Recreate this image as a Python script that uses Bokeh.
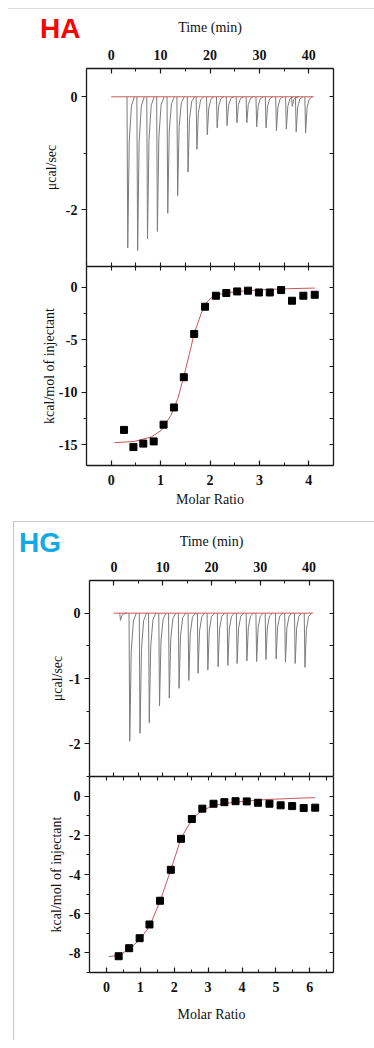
from bokeh.plotting import figure
from bokeh.models import LinearAxis, FixedTicker, Div, Spacer
from bokeh.layouts import column, row
from bokeh.embed import file_html
from bokeh.resources import INLINE

# ---------------- data: HA ----------------
ha_inj_time = [3.2, 5.2, 7.2, 9.2, 11.3, 13.3, 15.4, 17.2, 19.3, 21.3,
               23.3, 25.3, 27.3, 29.3, 31.2, 33.3, 35.3, 36.5, 37.3, 39.2]
ha_inj_peak = [-2.67, -2.72, -2.51, -2.38, -2.06, -1.75, -1.33, -0.93, -0.67, -0.55,
               -0.51, -0.46, -0.46, -0.53, -0.55, -0.60, -0.57, -0.17, -0.62, -0.64]
ha_base_time = [0.0, 41.0]
ha_base_val = [0.0, 0.0]

ha_ratio = [0.26, 0.45, 0.65, 0.86, 1.06, 1.27, 1.47, 1.68, 1.90, 2.12,
            2.33, 2.55, 2.77, 2.99, 3.21, 3.44, 3.66, 3.89, 4.12]
ha_heat = [-13.6, -15.24, -14.91, -14.70, -13.1, -11.46, -8.57, -4.44, -1.84, -0.79,
           -0.53, -0.38, -0.31, -0.48, -0.48, -0.25, -1.27, -0.79, -0.70]
ha_fit_ratio = [0.07, 0.47, 0.81, 1.01, 1.21, 1.35, 1.47, 1.58, 1.68, 1.82,
                1.90, 2.02, 2.22, 2.49, 3.03, 3.57, 4.12]
ha_fit_heat = [-14.82, -14.70, -14.28, -13.65, -12.2, -10.6, -8.5, -6.4, -4.4, -2.5,
               -1.6, -1.0, -0.63, -0.41, -0.22, -0.12, -0.06]

# ---------------- data: HG ----------------
hg_inj_time = [1.2, 3.1, 5.2, 7.1, 9.2, 11.2, 13.2, 15.2, 17.1, 19.1, 21.2,
               23.2, 25.1, 27.1, 29.1, 31.0, 33.1, 35.0, 37.0, 39.0]
hg_inj_peak = [-0.11, -1.96, -1.84, -1.68, -1.42, -1.30, -1.15, -1.03, -0.92, -0.87, -0.82,
               -0.80, -0.77, -0.73, -0.74, -0.71, -0.70, -0.75, -0.77, -0.83]
hg_base_time = [0.0, 40.8]
hg_base_val = [0.0, 0.0]

hg_ratio = [0.36, 0.67, 0.98, 1.27, 1.58, 1.90, 2.20, 2.52, 2.83, 3.16,
            3.48, 3.81, 4.14, 4.47, 4.81, 5.14, 5.48, 5.82, 6.16]
hg_heat = [-8.17, -7.76, -7.25, -6.55, -5.34, -3.76, -2.18, -1.17, -0.64, -0.39,
           -0.31, -0.26, -0.27, -0.34, -0.39, -0.47, -0.51, -0.61, -0.59]
hg_fit_ratio = [0.07, 0.36, 0.67, 0.98, 1.27, 1.58, 1.90, 2.20, 2.39, 2.58,
                2.83, 3.18, 3.77, 4.76, 5.74, 6.16]
hg_fit_heat = [-8.19, -8.12, -7.81, -7.33, -6.65, -5.37, -3.76, -2.16, -1.58, -1.07,
               -0.73, -0.47, -0.31, -0.17, -0.10, -0.08]

# tick labels
time_ticks = [0, 10, 20, 30, 40]
ha_raw_ticks = [0, -2]
ha_heat_ticks = [0, -5, -10, -15]
ha_ratio_ticks = [0, 1, 2, 3, 4]
hg_raw_ticks = [0, -1, -2]
hg_heat_ticks = [0, -2, -4, -6, -8]
hg_ratio_ticks = [0, 1, 2, 3, 4, 5, 6]

# ---------------- style ----------------
SERIF = "Liberation Serif"
AX_COLOR = "#1a1a1a"
FIT_RED = "#c8585a"
TRACE = "#7c7c7c"
SPIKE_DT = [0.0, 0.15, 0.45, 0.9, 1.5]
SPIKE_FRAC = [0.0, 1.0, 0.3, 0.06, 0.0]


def rng(a, b, step):
    out, v = [], a
    while v <= b + 1e-9:
        out.append(round(v, 6))
        v += step
    return out


def make_axis(major, minor, tick_in, tick_out, title=None,
              label_standoff=4, title_standoff=6):
    ax = LinearAxis(ticker=FixedTicker(ticks=major, minor_ticks=minor))
    ax.axis_line_color = AX_COLOR
    ax.axis_line_width = 1.3
    ax.major_tick_line_color = AX_COLOR
    ax.minor_tick_line_color = AX_COLOR
    ax.major_tick_line_width = 1.2
    ax.minor_tick_line_width = 1.0
    ax.major_tick_in = 5 if tick_in else 0
    ax.major_tick_out = 5 if tick_out else 0
    ax.minor_tick_in = 3 if tick_in else 0
    ax.minor_tick_out = 3 if tick_out else 0
    ax.major_label_overrides = {t: str(t) for t in major}
    ax.major_label_text_font = SERIF
    ax.major_label_text_font_style = "bold"
    ax.major_label_text_font_size = "14px"
    ax.major_label_text_color = "#111111"
    ax.major_label_standoff = label_standoff
    if title:
        ax.axis_label = title
        ax.axis_label_text_font = SERIF
        ax.axis_label_text_font_style = "normal"
        ax.axis_label_text_font_size = "14px"
        ax.axis_label_text_color = "#111111"
        ax.axis_label_standoff = title_standoff
    return ax


def bare_axis(positions):
    # frame side with inward ticks only (no tick labels)
    ax = LinearAxis(ticker=FixedTicker(ticks=[], minor_ticks=positions))
    ax.axis_line_color = AX_COLOR
    ax.axis_line_width = 1.3
    ax.minor_tick_line_color = AX_COLOR
    ax.minor_tick_line_width = 1.1
    ax.minor_tick_in = 4
    ax.minor_tick_out = 0
    ax.major_label_standoff = 0
    return ax


def base_fig(w, h, xr, yr, left, right, top, bottom):
    p = figure(width=w, height=h, x_range=xr, y_range=yr,
               x_axis_location=None, y_axis_location=None,
               output_backend="svg", toolbar_location=None,
               min_border_left=left, min_border_right=right,
               min_border_top=top, min_border_bottom=bottom)
    p.grid.visible = False
    p.outline_line_color = None
    p.background_fill_color = "white"
    p.border_fill_color = "white"
    return p


def raw_fig(w, h, left, top, yr, y_major, y_minor, times, peaks, bt, bv,
            ystand, tstand):
    p = base_fig(w, h, (-5, 45), yr, left, 33, top, 0)
    tminor = rng(-5, 45, 5)
    p.add_layout(make_axis(time_ticks, tminor, True, False, "Time (min)", 9, tstand), "above")
    p.add_layout(bare_axis(tminor), "below")
    p.add_layout(make_axis(y_major, y_minor, False, True, "\u03bccal/sec", 4, ystand), "left")
    p.add_layout(bare_axis(sorted(y_major + y_minor)), "right")
    xs = [[t + d for d in SPIKE_DT] for t in times]
    ys = [[pk * f for f in SPIKE_FRAC] for pk in peaks]
    p.multi_line(xs, ys, line_color=TRACE, line_width=1)
    p.line(bt, bv, line_color=FIT_RED, line_width=1)
    return p


def heat_fig(w, h, left, bottom, xr, yr, x_major, x_minor, y_major, y_minor,
             ratio, heat, fr, fh, ystand, xstand):
    p = base_fig(w, h, xr, yr, left, 33, 0, bottom)
    p.add_layout(bare_axis(sorted(x_major + x_minor)), "above")
    p.add_layout(make_axis(x_major, x_minor, True, False, "Molar Ratio", 9, xstand), "below")
    p.add_layout(make_axis(y_major, y_minor, False, True, "kcal/mol of injectant", 4, ystand), "left")
    p.add_layout(bare_axis(sorted(y_major + y_minor)), "right")
    p.line(fr, fh, line_color=FIT_RED, line_width=1)
    p.scatter(ratio, heat, marker="square", size=7, fill_color="black", line_color="black")
    return p


def half_steps(a, b, majors):
    return [v for v in rng(a, b, 0.5) if v not in majors]


def tag_div(text, color, top, left):
    html = ('<span style="font-family:\'Liberation Sans\',Arial,sans-serif;'
            'font-weight:bold;font-size:28px;line-height:28px;color:%s;'
            'white-space:nowrap">%s</span>' % (color, text))
    return Div(text=html, width=60, height=28, margin=(top, 0, -(top + 28), left),
               styles={"position": "relative", "z-index": "5", "overflow": "visible"})


# ---------------- HA panel ----------------
fa1 = raw_fig(358, 257, 78, 59, (-3, 0.5), ha_raw_ticks, [-3, -1],
              ha_inj_time, ha_inj_peak, ha_base_time, ha_base_val, 4, 12)
fa2 = heat_fig(358, 255, 78, 56, (-0.5, 4.5), (-17, 2), ha_ratio_ticks,
               half_steps(-0.5, 4.5, ha_ratio_ticks),
               ha_heat_ticks, [-17.5, -12.5, -7.5, -2.5], ha_ratio, ha_heat,
               ha_fit_ratio, ha_fit_heat, -1, 4)

# ---------------- HG panel ----------------
fb1 = raw_fig(352, 254, 75, 58, (-2.5, 0.5), hg_raw_ticks, [-2.5, -1.5, -0.5],
              hg_inj_time, hg_inj_peak, hg_base_time, hg_base_val, 1, 10)
fb2 = heat_fig(352, 264, 75, 68, (-0.5, 6.7), (-9, 1), hg_ratio_ticks,
               half_steps(-0.5, 6.5, hg_ratio_ticks),
               hg_heat_ticks, [-9, -7, -5, -3, -1, 1], hg_ratio, hg_heat,
               hg_fit_ratio, hg_fit_heat, 2, 12)

ha_tag = tag_div("HA", "#ff0000", 6, 32)
hg_tag = tag_div("HG", "#12a9e6", 7, 5)

top_rule = Div(text="", width=366, height=1, margin=(0, 0, 0, 0),
               styles={"background-color": "#dedede"})
hg_rule = Div(text="", width=361, height=1, margin=(0, 0, 0, 0),
              styles={"background-color": "#c8c8c8"})
hg_side = Div(text="", width=1, height=518, margin=(0, 0, 0, 0),
              styles={"background-color": "#c8c8c8"})
pad = Spacer(width=5, height=519, margin=(0, 0, 0, 0))

hg_block = row(pad, column(hg_rule, row(hg_side, column(hg_tag, fb1, fb2, spacing=0), spacing=0), spacing=0), spacing=0)
content = column(top_rule, ha_tag, fa1, fa2, hg_block, spacing=0)
page = column(Spacer(width=366, height=8, margin=(0, 0, 0, 0)),
              row(Spacer(width=8, height=1032, margin=(0, 0, 0, 0)), content, spacing=0),
              spacing=0)

open("out.html", "w").write(file_html(page, INLINE))
